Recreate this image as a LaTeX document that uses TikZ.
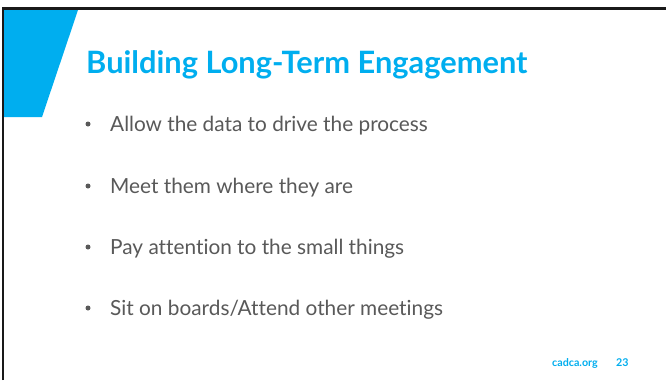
\documentclass[tikz,border=0pt]{standalone}
\usepackage{fontspec}
\setmainfont{Lato}[Ligatures={NoCommon}]
\definecolor{cadcablue}{HTML}{00AEEF}
\definecolor{bulletgrey}{HTML}{595959}
\begin{document}
\begin{tikzpicture}[x=1pt,y=-1pt,
  bullettext/.style={anchor=base west,inner sep=0pt,text=bulletgrey,font=\fontsize{20.8}{24}\selectfont},
  bulletdot/.style={circle,fill=bulletgrey,inner sep=0pt,minimum size=5pt},
  foot/.style={anchor=base west,inner sep=0pt,text=cadcablue,font=\fontsize{10.7}{12}\bfseries\selectfont}]
\useasboundingbox (0,0) rectangle (666,380);
\fill[white] (0,0) rectangle (666,380);
\fill[cadcablue] (4,10) -- (78,10) -- (42,117) -- (4,117) -- cycle;
\draw[line width=2.6pt,black!90] (3,380) -- (3,8.5) -- (670,8.5);
\node[anchor=base west,inner sep=0pt,text=cadcablue,font=\fontsize{30.8}{36}\bfseries\selectfont] (title) at (86,73) {Building Long-Term Engagement};
\node[bulletdot] (b1) at (88,124) {};
\node[bullettext] (t1) at (110,131) {Allow the data to drive the process};
\node[bulletdot] (b2) at (88,186) {};
\node[bullettext] (t2) at (110,193) {Meet them where they are};
\node[bulletdot] (b3) at (88,247) {};
\node[bullettext] (t3) at (110,254) {Pay attention to the small things};
\node[bulletdot] (b4) at (88,308) {};
\node[bullettext] (t4) at (110,315) {Sit on boards/Attend other meetings};
\node[foot] (site) at (552,366) {cadca.org};
\node[foot] (page) at (616,366) {23};
\end{tikzpicture}
\end{document}
